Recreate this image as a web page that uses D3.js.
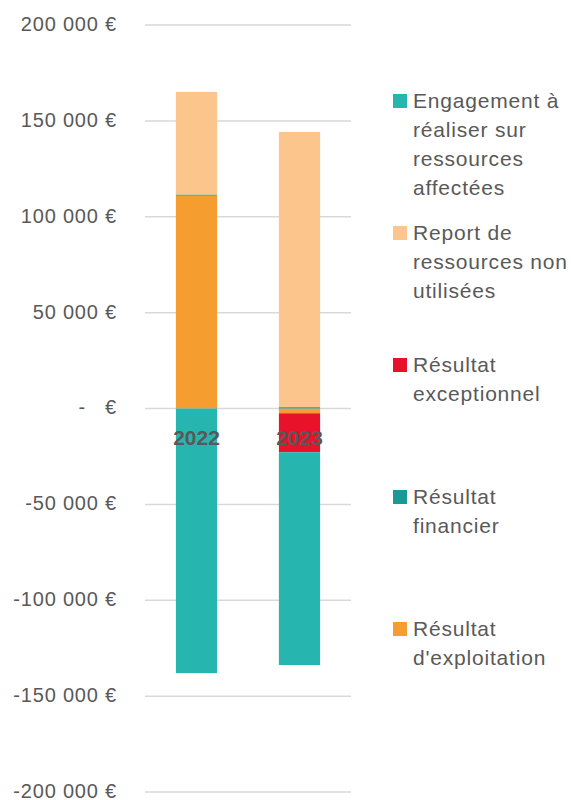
<!DOCTYPE html>
<html>
<head>
<meta charset="utf-8">
<script src="https://cdn.jsdelivr.net/npm/d3@7"></script>
<style>
  body { margin: 0; background: #fff; }
  svg { display: block; }
</style>
</head>
<body>
<svg id="chart" width="574" height="800"></svg>
<script>
// categories and series (stack order = Excel series order)
const years = ["2022", "2023"];
const exploitation = [111000, -2500];
const financier = [600, 700];
const exceptionnel = [0, -20300];
const report = [53500, 143500];
const engagement = [-138000, -111000];

const seriesKeys = ["Résultat d'exploitation", "Résultat financier", "Résultat exceptionnel",
  "Report de ressources non utilisées", "Engagement à réaliser sur ressources affectées"];
const seriesValues = [exploitation, financier, exceptionnel, report, engagement];
const seriesColors = ["#F59D2E", "#1A9A94", "#E8132A", "#FBC58B", "#27B6AF"];
// wrapped legend labels, as in the picture
const legendLines = [
  ["Résultat", "d'exploitation"],
  ["Résultat", "financier"],
  ["Résultat", "exceptionnel"],
  ["Report de", "ressources non", "utilisées"],
  ["Engagement à", "réaliser sur", "ressources", "affectées"]
];
const yTicks = [-200000, -150000, -100000, -50000, 0, 50000, 100000, 150000, 200000];

let svg = d3.select("#chart");
let textColor = "#595959";

// build table for d3.stack
let table = years.map((y, i) => {
  let row = { year: y };
  seriesKeys.forEach((k, j) => row[k] = seriesValues[j][i]);
  return row;
});

let stacked = d3.stack().keys(seriesKeys).offset(d3.stackOffsetDiverging)(table);

// scales
let x = d3.scaleBand().domain(years).range([145, 351]).paddingInner(0.6).paddingOuter(0.3);
let y = d3.scaleLinear().domain([-200000, 200000]).range([792, 25]);

// number format "200 000 €", zero shown as "-   €"
function fmt(v) {
  if (v === 0) return "-\u00a0\u00a0\u00a0€";
  let s = d3.format(",")(Math.abs(v)).replace(/,/g, "\u00a0");
  return (v < 0 ? "-" : "") + s + "\u00a0€";
}

// gridlines
svg.append("g")
  .selectAll("line")
  .data(yTicks)
  .enter()
  .append("line")
  .attr("x1", 145)
  .attr("x2", 351)
  .attr("y1", d => y(d))
  .attr("y2", d => y(d))
  .style("stroke", "#d9d9d9")
  .style("stroke-width", 1.5);

// y axis labels
let yAxis = d3.axisLeft(y).tickValues(yTicks).tickFormat(fmt).tickSize(0).tickPadding(0);
let yg = svg.append("g")
  .attr("transform", "translate(117,-1)")
  .call(yAxis);
yg.select(".domain").remove();
yg.selectAll("text")
  .style("font-family", "'Liberation Sans', Arial, sans-serif")
  .style("font-size", "20px")
  .style("letter-spacing", "0.8px")
  .style("fill", textColor);

// bars
svg.append("g")
  .selectAll("g")
  .data(stacked)
  .enter()
  .append("g")
  .style("fill", (d, i) => seriesColors[i])
  .selectAll("rect")
  .data(d => d)
  .enter()
  .append("rect")
  .attr("x", d => x(d.data.year))
  .attr("width", x.bandwidth())
  .attr("y", d => y(Math.max(d[0], d[1])))
  .attr("height", d => Math.abs(y(d[0]) - y(d[1])));

// category labels (drawn over the bars, just below zero)
let xAxis = d3.axisBottom(x).tickSize(0).tickPadding(0);
let xg = svg.append("g")
  .attr("transform", "translate(0," + (y(0) + 22) + ")")
  .call(xAxis);
xg.select(".domain").remove();
xg.selectAll("text")
  .style("font-family", "'Liberation Sans', Arial, sans-serif")
  .style("font-size", "21px")
  .style("font-weight", "bold")
  .style("fill", textColor);

// legend, reversed order like Excel
let legend = svg.append("g")
  .selectAll("g")
  .data(d3.range(seriesKeys.length).reverse())
  .enter()
  .append("g")
  .attr("transform", (d, i) => "translate(393," + (101 + i * 132) + ")");

legend.append("rect")
  .attr("x", 0)
  .attr("y", -7)
  .attr("width", 14)
  .attr("height", 14)
  .style("fill", d => seriesColors[d]);

legend.append("text")
  .style("font-family", "'Liberation Sans', Arial, sans-serif")
  .style("font-size", "21px")
  .style("letter-spacing", "0.8px")
  .style("fill", textColor)
  .selectAll("tspan")
  .data(d => legendLines[d])
  .enter()
  .append("tspan")
  .attr("x", 20)
  .attr("y", (d, i) => i * 29)
  .attr("dy", "0.35em")
  .text(d => d);
</script>
</body>
</html>
